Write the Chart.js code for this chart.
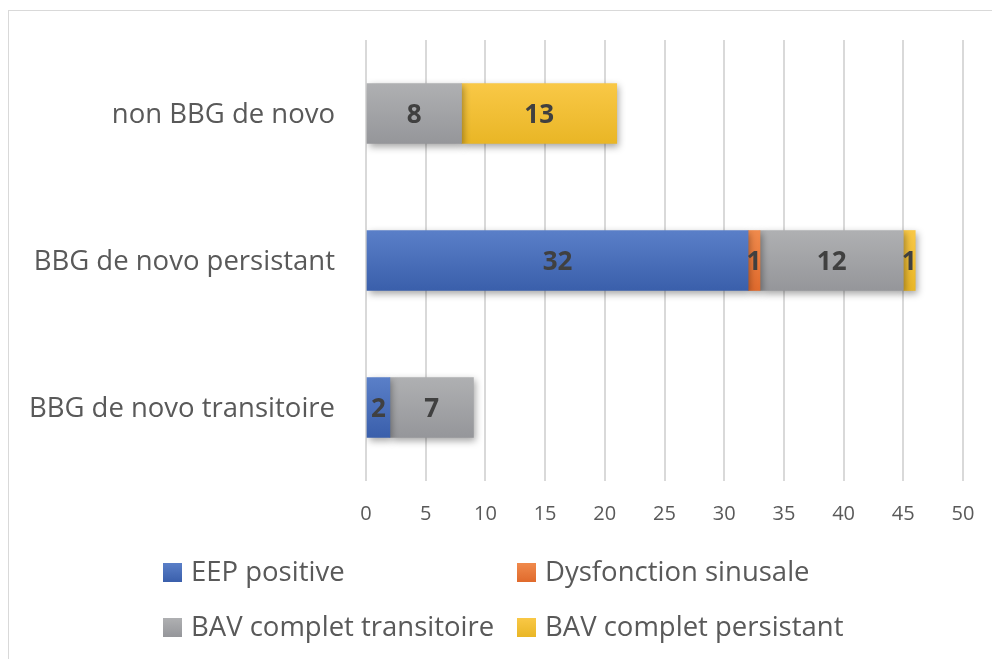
<!DOCTYPE html>
<html>
<head>
<meta charset="utf-8">
<script src="https://cdn.jsdelivr.net/npm/chart.js@4.4.1/dist/chart.umd.min.js"></script>
<style>
  html, body { margin: 0; padding: 0; background: #fff; }
  #wrap { position: relative; width: 992px; height: 659px; overflow: hidden; font-family: "Open Sans", sans-serif; }
  #frame { position: absolute; left: 8px; top: 10px; width: 1200px; height: 900px; border-left: 1px solid #d9d9d9; border-top: 1px solid #d9d9d9; }
  canvas { position: absolute; left: 0; top: 0; }
  .lg { position: absolute; color: #595959; font-size: 27.5px; line-height: 30px; white-space: nowrap; }
  .lg i { position: absolute; left: 0; top: 7px; width: 19px; height: 19px; }
  .lg span { position: absolute; left: 28px; top: 0; }
</style>
</head>
<body>
<div id="wrap">
  <div id="frame"></div>
  <canvas id="c" width="992" height="659"></canvas>
  <div id="legend"></div>
</div>
<script>
const categories = ["non BBG de novo", "BBG de novo persistant", "BBG de novo transitoire"];
const seriesNames = ["EEP positive", "Dysfonction sinusale", "BAV complet transitoire", "BAV complet persistant"];
const eepPositive = [0, 32, 2];
const dysfonctionSinusale = [0, 1, 0];
const bavTransitoire = [8, 12, 7];
const bavPersistant = [13, 1, 0];
const xTickValues = [0, 5, 10, 15, 20, 25, 30, 35, 40, 45, 50];

const palette = [
  ["#5a7fc8", "#3a5fab"],
  ["#f08a4c", "#e06a2c"],
  ["#afb0b2", "#95969a"],
  ["#f9c846", "#e9b626"]
];
const seriesValues = [eepPositive, dysfonctionSinusale, bavTransitoire, bavPersistant];

function gradFor(idx) {
  return function(ctx) {
    const chart = ctx.chart;
    const ys = chart.scales && chart.scales.y;
    if (ctx.raw === 0) return 'rgba(0,0,0,0)';
    if (!ys || !chart.chartArea || ctx.dataIndex === undefined) return palette[idx][0];
    const yc = ys.getPixelForValue(ctx.dataIndex);
    if (!isFinite(yc)) return palette[idx][0];
    const g = chart.ctx.createLinearGradient(0, yc - 30, 0, yc + 30);
    g.addColorStop(0, palette[idx][0]);
    g.addColorStop(1, palette[idx][1]);
    return g;
  };
}

const datasets = seriesNames.map((name, i) => ({
  label: name,
  data: seriesValues[i],
  backgroundColor: gradFor(i),
  borderWidth: 0,
  barThickness: 60
}));

const shadowPlugin = {
  id: 'shadow',
  beforeDatasetsDraw(chart) {
    const c = chart.ctx;
    c.save();
    c.shadowColor = 'rgba(0,0,0,0.35)';
    c.shadowBlur = 7;
    c.shadowOffsetX = 2;
    c.shadowOffsetY = 3;
  },
  afterDatasetsDraw(chart) {
    chart.ctx.restore();
    const c = chart.ctx;
    c.save();
    c.font = 'bold 26px "Open Sans", sans-serif';
    c.fillStyle = '#404040';
    c.textAlign = 'center';
    c.textBaseline = 'middle';
    chart.data.datasets.forEach((ds, di) => {
      const meta = chart.getDatasetMeta(di);
      meta.data.forEach((el, j) => {
        const v = ds.data[j];
        if (!v) return;
        const cx = (el.x + el.base) / 2;
        c.fillText(String(v), cx, el.y + 2);
      });
    });
    c.restore();
  }
};

new Chart(document.getElementById('c'), {
  type: 'bar',
  data: { labels: categories, datasets },
  options: {
    indexAxis: 'y',
    responsive: false,
    animation: false,
    layout: { padding: { left: 0, top: 40, right: 29, bottom: 128 } },
    plugins: { legend: { display: false }, tooltip: { enabled: false } },
    scales: {
      x: {
        stacked: true,
        min: 0, max: 50,
        afterBuildTicks(s) { s.ticks = xTickValues.map(v => ({ value: v })); },
        afterFit(s) { s.height = 50; s.paddingLeft = 0; s.paddingRight = 0; },
        grid: { color: '#d9d9d9', lineWidth: 2, drawTicks: false },
        border: { display: false },
        ticks: { color: '#595959', padding: 21, font: { family: '"Open Sans"', size: 20 } }
      },
      y: {
        stacked: true,
        afterFit(s) { s.width = 366; s.paddingTop = 0; s.paddingBottom = 0; },
        grid: { display: false, drawTicks: false },
        border: { display: false },
        ticks: { color: '#595959', padding: 31, labelOffset: 2, font: { family: '"Open Sans"', size: 27.5 } }
      }
    }
  },
  plugins: [shadowPlugin]
});

const legendPos = [[163, 556], [517, 556], [163, 611], [517, 611]];
const lg = document.getElementById('legend');
seriesNames.forEach((name, i) => {
  const d = document.createElement('div');
  d.className = 'lg';
  d.style.left = legendPos[i][0] + 'px';
  d.style.top = legendPos[i][1] + 'px';
  d.innerHTML = '<i style="background:linear-gradient(' + palette[i][0] + ',' + palette[i][1] + ')"></i><span></span>';
  d.querySelector('span').textContent = name;
  lg.appendChild(d);
});
</script>
</body>
</html>
